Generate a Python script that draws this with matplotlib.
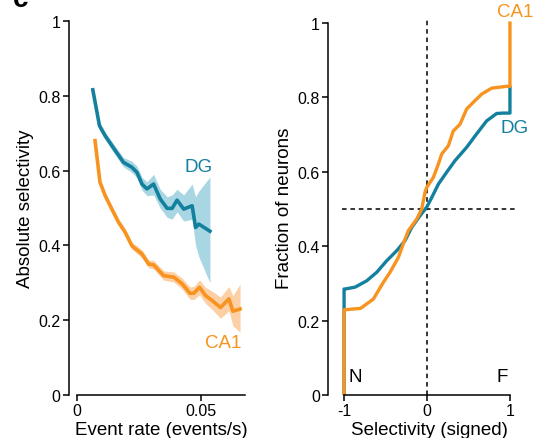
import numpy as np
import matplotlib
matplotlib.use('Agg')
import matplotlib.pyplot as plt
from matplotlib.ticker import FuncFormatter

plt.rcParams['font.family'] = ['Liberation Sans', 'DejaVu Sans']

teal = '#13809e'
orange = '#f7931e'
teal_band = '#a9d6e3'
orange_band = '#fdcfa5'

# left panel: absolute selectivity vs event rate
dg_rate = [0.0064, 0.0091, 0.0114, 0.0141, 0.0188, 0.0222, 0.0243, 0.0263, 0.0283, 0.031,
           0.0337, 0.0365, 0.0385, 0.0405, 0.0432, 0.0466, 0.048, 0.0493, 0.0538]
dg_sel = [0.816, 0.72, 0.693, 0.667, 0.622, 0.609, 0.595, 0.564, 0.551, 0.564,
          0.524, 0.499, 0.499, 0.521, 0.497, 0.506, 0.448, 0.457, 0.438]
dg_lo = [0.81, 0.71, 0.683, 0.655, 0.61, 0.595, 0.58, 0.548, 0.533, 0.535,
         0.5, 0.475, 0.47, 0.49, 0.465, 0.47, 0.40, 0.37, 0.30]
dg_hi = [0.82, 0.73, 0.703, 0.678, 0.635, 0.625, 0.612, 0.582, 0.57, 0.59,
         0.55, 0.53, 0.535, 0.55, 0.535, 0.564, 0.53, 0.545, 0.583]

ca1_rate = [0.0073, 0.0093, 0.0114, 0.0141, 0.0168, 0.0195, 0.0222, 0.0263, 0.029, 0.031, 0.0351,
            0.0392, 0.0426, 0.0457, 0.0473, 0.0496, 0.052, 0.0548, 0.0581, 0.0615, 0.0631, 0.066]
ca1_sel = [0.68, 0.569, 0.533, 0.497, 0.462, 0.435, 0.399, 0.377, 0.35, 0.348, 0.319,
           0.315, 0.297, 0.272, 0.272, 0.288, 0.266, 0.252, 0.234, 0.257, 0.224, 0.23]
ca1_lo = [0.672, 0.56, 0.524, 0.488, 0.453, 0.426, 0.39, 0.367, 0.34, 0.337, 0.307,
          0.302, 0.283, 0.256, 0.255, 0.268, 0.245, 0.228, 0.205, 0.225, 0.185, 0.168]
ca1_hi = [0.688, 0.578, 0.542, 0.506, 0.471, 0.445, 0.409, 0.388, 0.361, 0.36, 0.332,
          0.329, 0.312, 0.289, 0.29, 0.308, 0.288, 0.277, 0.262, 0.29, 0.265, 0.297]

# right panel: cumulative fraction of neurons vs signed selectivity
dg_x = [-1, -1, -0.988, -0.867, -0.727, -0.606, -0.486, -0.365, -0.265, -0.184, -0.084,
        -0.004, 0.057, 0.137, 0.237, 0.337, 0.478, 0.598, 0.719, 0.84, 0.92, 1.0, 1.0]
dg_y = [0.0, 0.285, 0.285, 0.29, 0.307, 0.33, 0.361, 0.388, 0.415, 0.451, 0.482,
        0.505, 0.531, 0.567, 0.599, 0.63, 0.666, 0.702, 0.737, 0.757, 0.758, 0.758, 0.827]
ca1_x = [-1, -1, -0.8, -0.647, -0.526, -0.446, -0.345, -0.265, -0.225, -0.124, -0.064,
         -0.024, -0.004, 0.076, 0.137, 0.177, 0.257, 0.317, 0.398, 0.478, 0.558, 0.659,
         0.779, 0.96, 1.0, 1.0]
ca1_y = [0.0, 0.229, 0.233, 0.258, 0.303, 0.33, 0.37, 0.419, 0.442, 0.473, 0.5,
         0.545, 0.558, 0.585, 0.621, 0.648, 0.67, 0.71, 0.728, 0.769, 0.787, 0.809,
         0.825, 0.83, 0.83, 1.0]


def fmt(v, pos):
    if abs(v) < 1e-9:
        return '0'
    return ('%g' % v)


def style(ax):
    for s in ['top', 'right']:
        ax.spines[s].set_visible(False)
    for s in ['left', 'bottom']:
        ax.spines[s].set_linewidth(1.1)
    ax.tick_params(width=1.1, length=4, labelsize=11.5, pad=2)


fig = plt.figure(figsize=(5.33, 4.39), dpi=100)

ax1 = fig.add_axes([77 / 533, 1 - 396 / 439, 168 / 533, 374 / 439])
style(ax1)
ax1.fill_between(dg_rate, dg_lo, dg_hi, color=teal_band, lw=0)
ax1.fill_between(ca1_rate, ca1_lo, ca1_hi, color=orange_band, lw=0)
ax1.plot(dg_rate, dg_sel, color=teal, lw=2.6)
ax1.plot(ca1_rate, ca1_sel, color=orange, lw=2.6)
ax1.set_xlim(0, 0.068)
ax1.set_ylim(0, 1)
ax1.spines['left'].set_position(('outward', 6))
ax1.spines['bottom'].set_bounds(0, 0.068)
ax1.set_xticks([0, 0.05])
ax1.set_yticks([0, 0.2, 0.4, 0.6, 0.8, 1])
ax1.xaxis.set_major_formatter(FuncFormatter(fmt))
ax1.yaxis.set_major_formatter(FuncFormatter(fmt))
ax1.set_xlabel('Event rate (events/s)', fontsize=13.5, labelpad=2)
ax1.set_ylabel('Absolute selectivity', fontsize=13.5, labelpad=3)
ax1.text(0.0492, 0.612, 'DG', color=teal, fontsize=13.5, ha='center', va='center')
ax1.text(0.0591, 0.141, 'CA1', color=orange, fontsize=13.5, ha='center', va='center')

ax2 = fig.add_axes([342 / 533, 1 - 396 / 439, 175 / 533, 376 / 439])
style(ax2)
ax2.set_xlim(-1.025, 1.085)
ax2.set_ylim(0, 1.011)
ax2.axhline(0.5, color='black', lw=1.1, ls=(0, (3, 2.5)))
ax2.axvline(0, color='black', lw=1.1, ls=(0, (3, 2.5)))
ax2.plot(dg_x, dg_y, color=teal, lw=2.4)
ax2.plot(ca1_x, ca1_y, color=orange, lw=2.4)
ax2.spines['left'].set_position(('outward', 10))
ax2.spines['left'].set_bounds(0, 1)
ax2.spines['bottom'].set_bounds(-1, 1)
ax2.set_xticks([-1, 0, 1])
ax2.set_yticks([0, 0.2, 0.4, 0.6, 0.8, 1])
ax2.xaxis.set_major_formatter(FuncFormatter(fmt))
ax2.yaxis.set_major_formatter(FuncFormatter(fmt))
ax2.set_xlabel('Selectivity (signed)', fontsize=13.5, labelpad=2)
ax2.set_ylabel('Fraction of neurons', fontsize=13.5, labelpad=3)
ax2.text(1.06, 1.03, 'CA1', color=orange, fontsize=13.5, ha='center', va='center', clip_on=False)
ax2.text(1.06, 0.72, 'DG', color=teal, fontsize=13.5, ha='center', va='center', clip_on=False)
ax2.text(-0.87, 0.05, 'N', color='black', fontsize=13.5, ha='center', va='center')
ax2.text(0.91, 0.05, 'F', color='black', fontsize=13.5, ha='center', va='center')

fig.text(21 / 533, 1.0, 'c', fontsize=20, fontweight='bold', ha='center', va='center')

fig.savefig('out.png', dpi=100)
